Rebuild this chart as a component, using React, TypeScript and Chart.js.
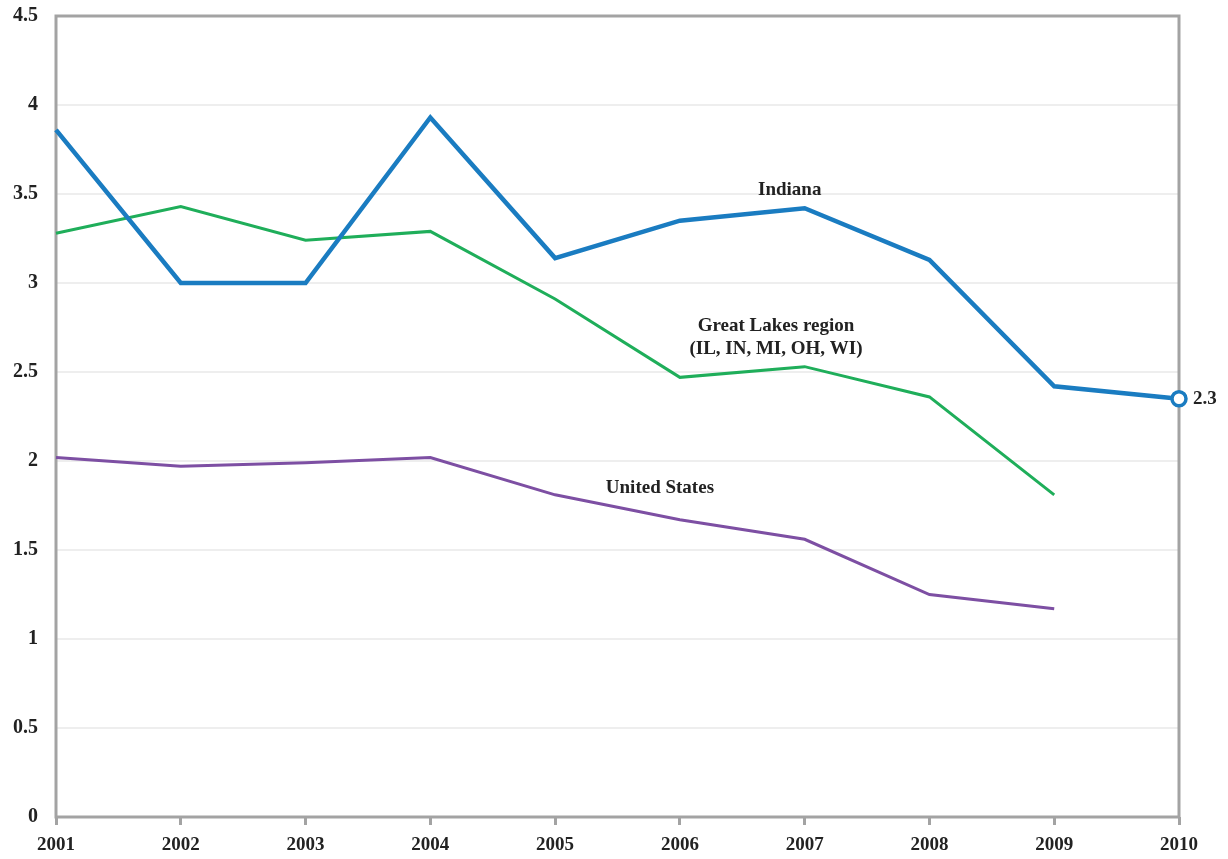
import React, { useEffect, useRef } from "react";
import { Chart, registerables } from "chart.js";

Chart.register(...registerables);

const years = ["2001", "2002", "2003", "2004", "2005", "2006", "2007", "2008", "2009", "2010"];
const indiana = [3.86, 3.0, 3.0, 3.93, 3.14, 3.35, 3.42, 3.13, 2.42, 2.35];
const greatLakes = [3.28, 3.43, 3.24, 3.29, 2.91, 2.47, 2.53, 2.36, 1.81, null];
const unitedStates = [2.02, 1.97, 1.99, 2.02, 1.81, 1.67, 1.56, 1.25, 1.17, null];
const yTicks = [0, 0.5, 1, 1.5, 2, 2.5, 3, 3.5, 4, 4.5];

const FONT = "'Liberation Serif', 'DejaVu Serif', serif";

const annotations = [
  { text: "Indiana", x: 5.88, y: 3.52 },
  { text: "Great Lakes region", x: 5.77, y: 2.76 },
  { text: "(IL, IN, MI, OH, WI)", x: 5.77, y: 2.63 },
  { text: "United States", x: 4.84, y: 1.85 },
];

const textPlugin = {
  id: "textPlugin",
  beforeDatasetsDraw(chart: any) {
    const { ctx, chartArea } = chart;
    ctx.save();
    ctx.strokeStyle = "#a3a3a3";
    ctx.lineWidth = 3;
    ctx.strokeRect(chartArea.left, chartArea.top, chartArea.right - chartArea.left, chartArea.bottom - chartArea.top);
    ctx.restore();
  },
  afterDatasetsDraw(chart: any) {
    const { ctx, scales } = chart;
    ctx.save();
    ctx.fillStyle = "#222";
    ctx.font = `bold 19px ${FONT}`;
    ctx.textAlign = "center";
    ctx.textBaseline = "middle";
    annotations.forEach((a) => {
      ctx.fillText(a.text, scales.x.getPixelForValue(a.x), scales.y.getPixelForValue(a.y));
    });
    const last = indiana.length - 1;
    ctx.textAlign = "left";
    ctx.fillText(String(Math.floor(indiana[last] * 10) / 10), scales.x.getPixelForValue(last) + 14, scales.y.getPixelForValue(indiana[last]));
    ctx.restore();
  },
};

export default function App() {
  const ref = useRef<HTMLCanvasElement>(null);
  useEffect(() => {
    if (!ref.current) return;
    const chart = new Chart(ref.current, {
      type: "line",
      data: {
        labels: years,
        datasets: [
          {
            label: "Indiana",
            data: indiana,
            borderColor: "#1a7cc1",
            borderWidth: 4.5,
            pointRadius: indiana.map((_, i) => (i === indiana.length - 1 ? 7 : 0)),
            pointBackgroundColor: "#ffffff",
            pointBorderColor: "#1a7cc1",
            pointBorderWidth: 3.5,
            tension: 0,
          },
          {
            label: "Great Lakes region",
            data: greatLakes,
            borderColor: "#1fae5a",
            borderWidth: 3,
            pointRadius: 0,
            tension: 0,
          },
          {
            label: "United States",
            data: unitedStates,
            borderColor: "#7d4fa3",
            borderWidth: 3,
            pointRadius: 0,
            tension: 0,
          },
        ],
      },
      options: {
        animation: false,
        responsive: true,
        maintainAspectRatio: false,
        layout: { padding: { top: 16, right: 49, left: 0, bottom: 0 } },
        plugins: { legend: { display: false }, tooltip: { enabled: false } },
        scales: {
          x: {
            offset: false,
            grid: { drawOnChartArea: false, drawTicks: true, tickLength: 8, color: "#a3a3a3", lineWidth: 3 },
            border: { display: false },
            ticks: { color: "#222", font: { family: FONT, size: 19, weight: "bold" }, padding: 9, maxRotation: 0, autoSkip: false },
            afterFit: (s: any) => { s.height = 42; },
          },
          y: {
            min: 0,
            max: 4.5,
            afterBuildTicks: (s: any) => { s.ticks = yTicks.map((v) => ({ value: v })); },
            grid: { color: "#eeeeee", lineWidth: 2, drawTicks: false },
            border: { display: false },
            ticks: { color: "#222", font: { family: FONT, size: 20, weight: "bold" }, padding: 18, callback: (v: any) => String(v) },
            afterFit: (s: any) => { s.width = 56; s.paddingTop = 0; s.paddingBottom = 0; },
          },
        },
      },
      plugins: [textPlugin],
    });
    return () => chart.destroy();
  }, []);
  return (
    <div style={{ position: "fixed", left: 0, top: 0, width: 1228, height: 859, background: "#fff" }}>
      <canvas ref={ref} />
    </div>
  );
}
